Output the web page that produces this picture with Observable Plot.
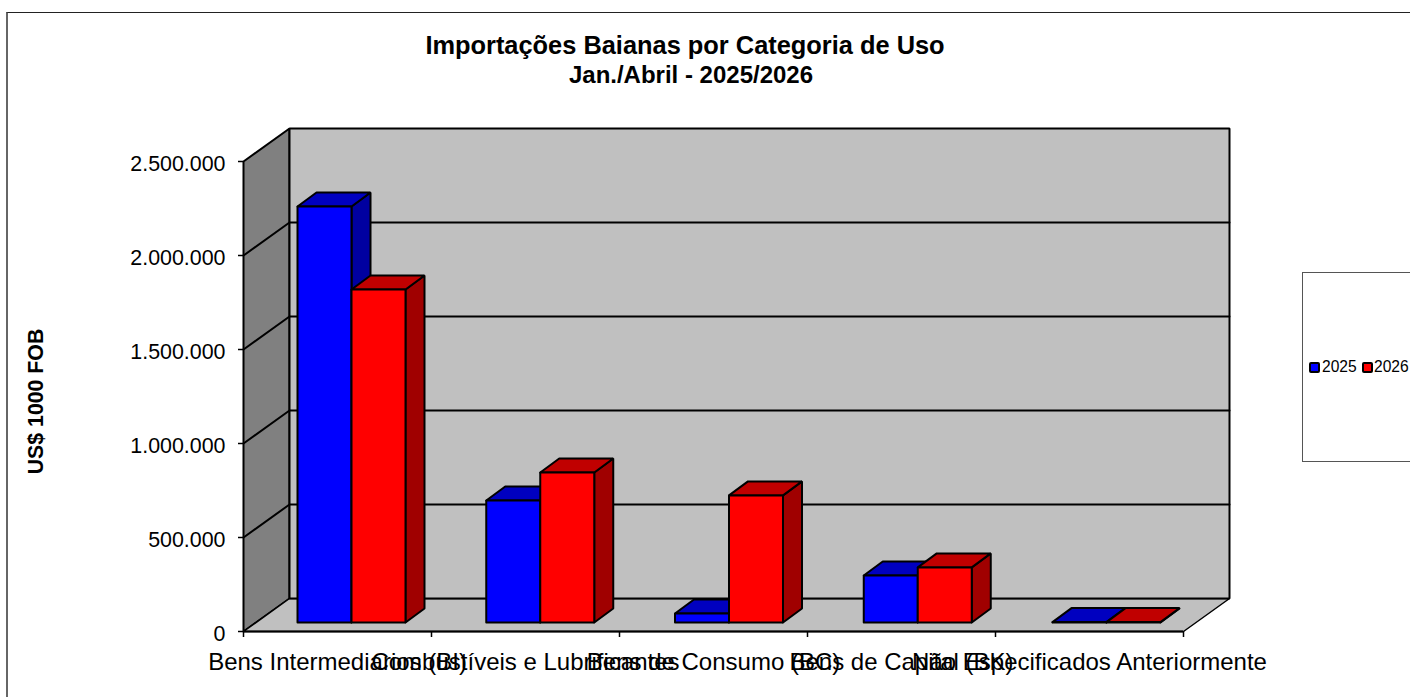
<!DOCTYPE html>
<html><head><meta charset="utf-8">
<script src="https://cdn.jsdelivr.net/npm/d3@7"></script>
<script src="https://cdn.jsdelivr.net/npm/@observablehq/plot@0.6"></script>
<style>
html,body{margin:0;padding:0;background:#fff;overflow:hidden}
#wrap{position:relative;width:1410px;height:697px;font-family:"Liberation Sans",Arial,sans-serif;color:#000;overflow:hidden}
#border{position:absolute;left:6px;top:12px;width:1500px;height:700px;border-top:1px solid #222;border-left:2px solid #666;box-sizing:border-box}
.t{position:absolute;white-space:nowrap;font-weight:bold;font-size:25.4px;line-height:29px;transform:translateX(-50%)}
#legend{position:absolute;left:1302px;top:272px;width:200px;height:190px;border:1px solid #555;box-sizing:border-box;background:#fff}
.item{position:absolute;top:85px;font-size:15.6px;line-height:18px}
.sw{position:absolute;top:89px;width:11px;height:11px;border:2.5px solid #000;box-sizing:border-box;border-radius:2px}
svg{position:absolute;left:0;top:0}
</style></head><body>
<div id="wrap"><div id="border"></div>
<div class="t" style="left:685px;top:31px">Importações Baianas por Categoria de Uso</div>
<div class="t" style="left:691px;top:60px;font-size:24px">Jan./Abril - 2025/2026</div>
<div id="legend">
<span class="sw" style="left:6px;background:#0000ff"></span><span class="item" style="left:19px">2025</span>
<span class="sw" style="left:59px;background:#ff0000"></span><span class="item" style="left:71px">2026</span>
</div>
</div>
<script>
const categories = ["Bens Intermediarios (BI)","Combustíveis e Lubrificantes","Bens de Consumo (BC)","Bens de Capital (BK)","Não Especificados Anteriormente"];
const values2025 = [2213000, 649000, 48000, 250000, 2000];
const values2026 = [1771000, 798000, 676000, 293000, 2000];
const yTicks = [0,500000,1000000,1500000,2000000,2500000];
const xTicks = [0,1,2,3,4,5];
const seriesNames = ["2025","2026"];

const Y = 5319.15;            // value units per pixel
const X = 1/188;              // category units per pixel
const wallDx = 46*X, wallDy = 33*Y;      // depth of the chart box
const barDx = 19*X, barDy = 14*Y;        // depth of one bar
const baseDy = 9*Y;                      // bar front plane offset
const barW = 54*X, barStart = 54*X, barStep = 188.75*X;

const polys = [];
function face(pts, fill, stroke, sw){ polys.push({pts:[...pts, pts[0]], fill, stroke, sw}); }
const yMax = 2500000, xMax = 5;
// walls
face([[0,0],[wallDx,wallDy],[wallDx,yMax+wallDy],[0,yMax]], "#808080", "#000", 2);
face([[0,0],[xMax,0],[xMax+wallDx,wallDy],[wallDx,wallDy]], "#c0c0c0", "#000", 1.5);
face([[wallDx,wallDy],[xMax+wallDx,wallDy],[xMax+wallDx,yMax+wallDy],[wallDx,yMax+wallDy]], "#c0c0c0", "#000", 2);
// gridlines on both walls
const grids = yTicks.slice(1,-1).map(v=>[[0,v],[wallDx,v+wallDy],[xMax+wallDx,v+wallDy]]);
// bars
const palette = [["#0000ff","#0000c0","#0000a0"],["#ff0000","#c00000","#a00000"]];
categories.forEach((c,i)=>{
  [values2025[i],values2026[i]].forEach((v,s)=>{
    const x0 = i*barStep+barStart+s*barW, x1 = x0+barW, b = baseDy, t = b+v;
    const [f,tp,sd] = palette[s];
    face([[x1,b],[x1+barDx,b+barDy],[x1+barDx,t+barDy],[x1,t]], sd, "#000", 2);
    face([[x0,t],[x1,t],[x1+barDx,t+barDy],[x0+barDx,t+barDy]], tp, "#000", 2);
    face([[x0,b],[x1,b],[x1,t],[x0,t]], f, "#000", 2);
  });
});
const fmt = d => d3.format(",")(d).replace(/,/g,".");
const poly = p => Plot.line(p.pts,{x:d=>d[0],y:d=>d[1],fill:p.fill,stroke:p.stroke,strokeWidth:p.sw,strokeLinejoin:"miter"});
const wallPolys = polys.slice(0,3), barPolys = polys.slice(3);
const chart = Plot.plot({
  width:1410,height:697,marginLeft:243,marginRight:227,marginTop:161,marginBottom:66,
  style:{background:"transparent",fontFamily:"'Liberation Sans',Arial,sans-serif",overflow:"visible"},
  x:{type:"linear",domain:[0,xMax],axis:null},
  y:{type:"linear",domain:[0,yMax],axis:null},
  marks:[
    ...wallPolys.map(poly),
    ...grids.map(g=>Plot.line(g,{x:d=>d[0],y:d=>d[1],stroke:"#000",strokeWidth:2})),
    ...barPolys.map(poly),
    Plot.ruleY([0],{stroke:"#000",strokeWidth:2}),
    Plot.axisY({ticks:yTicks,tickFormat:()=>"",tickSize:5,stroke:"#000",strokeWidth:1.5,label:null}),
    Plot.text(yTicks,{x:()=>0,y:d=>d,text:fmt,dx:-18,dy:2.5,textAnchor:"end",fontSize:21.4,fill:"#000"}),
    Plot.axisX({ticks:xTicks,tickFormat:()=>"",tickSize:6,stroke:"#000",strokeWidth:1.5,label:null}),
    Plot.text(categories,{x:(d,i)=>i+0.5,y:()=>0,dy:30.5,fontSize:24,fill:"#000",textAnchor:"middle"}),
    Plot.text(["US$ 1000 FOB"],{frameAnchor:"left",textAnchor:"middle",dx:-207,dy:5,rotate:-90,fontSize:21.3,fontWeight:"bold",fill:"#000"})
  ]
});
document.getElementById("wrap").appendChild(chart);
</script>
</body></html>
